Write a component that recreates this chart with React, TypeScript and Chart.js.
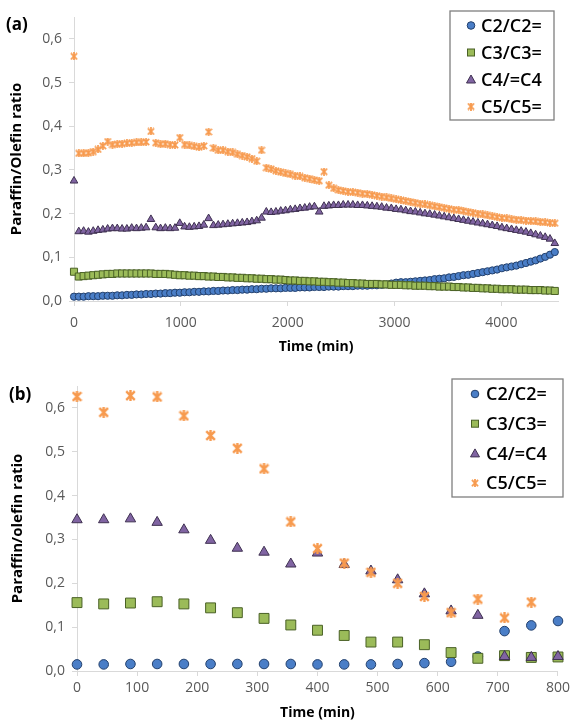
import React, { useEffect, useRef } from 'react';
import { Chart, registerables } from 'chart.js';
Chart.register(...registerables);

const SERIES = ['C2/C2=', 'C3/C3=', 'C4/=C4', 'C5/C5='];

// ---------- panel (a) ----------
const timeA = [0,45,90,135,180,225,270,315,360,405,450,495,540,585,630,675,720,765,810,855,900,945,990,1035,1080,1125,1170,1215,1260,1305,1350,1395,1440,1485,1530,1575,1620,1665,1710,1755,1800,1845,1890,1935,1980,2025,2070,2115,2160,2205,2250,2295,2340,2385,2430,2475,2520,2565,2610,2655,2700,2745,2790,2835,2880,2925,2970,3015,3060,3105,3150,3195,3240,3285,3330,3375,3420,3465,3510,3555,3600,3645,3690,3735,3780,3825,3870,3915,3960,4005,4050,4095,4140,4185,4230,4275,4320,4365,4410,4455,4500];
const c2A = [0.010,0.010,0.010,0.011,0.011,0.011,0.012,0.012,0.012,0.013,0.013,
  0.014,0.014,0.015,0.015,0.016,0.016,0.017,0.017,0.018,0.018,
  0.019,0.019,0.020,0.020,0.021,0.021,0.022,0.022,0.023,0.023,
  0.024,0.024,0.025,0.025,0.026,0.026,0.027,0.027,0.028,0.028,
  0.029,0.029,0.029,0.030,0.030,0.030,0.031,0.031,0.031,0.032,
  0.032,0.032,0.033,0.033,0.033,0.034,0.034,0.034,0.035,0.035,
  0.035,0.036,0.036,0.037,0.038,0.040,0.042,0.043,0.043,0.044,
  0.045,0.046,0.047,0.048,0.050,0.051,0.052,0.054,0.055,0.057,
  0.059,0.060,0.062,0.064,0.066,0.068,0.070,0.072,0.075,0.077,
  0.079,0.081,0.084,0.087,0.090,0.093,0.097,0.101,0.106,0.112];
const c3A = [0.067,0.056,0.057,0.058,0.059,0.060,0.061,0.062,0.062,0.063,0.063,
  0.063,0.063,0.063,0.063,0.063,0.063,0.062,0.062,0.062,0.061,
  0.060,0.059,0.059,0.058,0.058,0.057,0.057,0.056,0.056,0.055,
  0.055,0.054,0.054,0.053,0.053,0.052,0.052,0.051,0.051,0.050,
  0.050,0.049,0.049,0.048,0.047,0.047,0.046,0.046,0.045,0.045,
  0.044,0.044,0.043,0.043,0.042,0.042,0.041,0.041,0.040,0.040,
  0.039,0.039,0.039,0.038,0.038,0.037,0.037,0.037,0.036,0.036,
  0.035,0.035,0.035,0.034,0.034,0.033,0.033,0.033,0.032,0.032,
  0.031,0.031,0.030,0.030,0.029,0.029,0.028,0.028,0.027,0.027,
  0.027,0.026,0.026,0.026,0.025,0.025,0.025,0.024,0.024,0.023];
const c4A = [0.275,0.159,0.160,0.158,0.160,0.162,0.163,0.165,0.166,0.166,0.165,
  0.165,0.167,0.166,0.167,0.168,0.187,0.168,0.166,0.167,0.166,
  0.167,0.178,0.170,0.169,0.170,0.171,0.174,0.189,0.173,0.174,
  0.175,0.176,0.177,0.178,0.179,0.180,0.182,0.184,0.190,0.204,
  0.203,0.204,0.206,0.207,0.209,0.210,0.212,0.213,0.215,0.216,
  0.204,0.217,0.218,0.219,0.219,0.220,0.220,0.220,0.219,0.219,
  0.218,0.217,0.216,0.215,0.213,0.212,0.210,0.209,0.207,0.205,
  0.204,0.202,0.200,0.199,0.197,0.195,0.193,0.191,0.189,0.187,
  0.185,0.183,0.181,0.179,0.177,0.175,0.173,0.171,0.168,0.166,
  0.164,0.162,0.160,0.158,0.155,0.152,0.149,0.146,0.142,0.132];
const c5A = [0.560,0.338,0.338,0.339,0.342,0.347,0.355,0.365,0.358,0.359,0.360,
  0.361,0.362,0.363,0.363,0.364,0.388,0.362,0.359,0.360,0.358,
  0.357,0.374,0.358,0.356,0.354,0.352,0.355,0.387,0.350,0.345,
  0.345,0.342,0.340,0.336,0.333,0.330,0.326,0.320,0.345,0.305,
  0.302,0.298,0.295,0.292,0.290,0.287,0.285,0.282,0.280,0.277,
  0.275,0.296,0.265,0.258,0.254,0.252,0.250,0.249,0.248,0.246,
  0.245,0.243,0.241,0.239,0.237,0.235,0.233,0.231,0.229,0.227,
  0.225,0.223,0.221,0.219,0.217,0.215,0.213,0.211,0.209,0.208,
  0.206,0.204,0.202,0.200,0.198,0.196,0.194,0.192,0.190,0.189,
  0.187,0.186,0.185,0.184,0.183,0.182,0.181,0.180,0.179,0.178];

// ---------- panel (b) ----------
const timeB = [0,44.4,88.9,133.3,177.8,222.2,266.7,311.1,355.6,400,444.4,488.9,533.3,577.8,622.2,666.7,711.1,755.6,800];
const c2B = [0.015,0.015,0.016,0.016,0.016,0.016,0.016,0.016,0.016,0.015,0.015,0.015,0.016,0.018,0.021,0.033,0.091,0.104,0.114];
const c3B = [0.156,0.153,0.155,0.158,0.153,0.144,0.133,0.120,0.105,0.093,0.081,0.066,0.066,0.060,0.042,0.029,0.035,0.031,0.032];
const c4B = [0.345,0.345,0.347,0.339,0.322,0.298,0.280,0.271,0.244,0.269,0.243,0.228,0.208,0.176,0.137,0.127,0.033,0.031,0.033];
const c5B = [0.626,0.590,0.628,0.625,0.582,0.537,0.508,0.461,0.340,0.279,0.246,0.225,0.200,0.170,0.133,0.164,0.121,0.157,null];

const yTicks = [0, 0.1, 0.2, 0.3, 0.4, 0.5, 0.6];
const xTicksA = [0, 1000, 2000, 3000, 4000];
const xTicksB = [0, 100, 200, 300, 400, 500, 600, 700, 800];

const FILL = ['#4A7EC7', '#9BBB59', '#8064A2', '#F79A4E'];
const EDGE = ['#23406C', '#4A6126', '#3F3151', '#F79A4E'];
const AXIS = '#D9D9D9';
const FONT = '"Open Sans", "DejaVu Sans", sans-serif';

function makeStar(size: number, lw: number, color: string) {
  const c = document.createElement('canvas');
  c.width = size; c.height = size;
  const ctx = c.getContext('2d')!;
  ctx.strokeStyle = color; ctx.lineWidth = lw;
  const p = lw / 2;
  ctx.beginPath();
  ctx.moveTo(p, p); ctx.lineTo(size - p, size - p);
  ctx.moveTo(size - p, p); ctx.lineTo(p, size - p);
  ctx.moveTo(size / 2, 0); ctx.lineTo(size / 2, size);
  ctx.stroke();
  return c;
}

type PanelCfg = {
  label: string; labelPos: [number, number];
  yTitle: string; times: number[]; series: (number | null)[][];
  xMax: number; xTicks: number[];
  pad: { top: number; right: number };
  yWidth: number; xHeight: number; xTickPad: number; xTitlePad: number; yTitlePad: number;
  radii: [number, number, number]; starSize: number; starLW: number;
  legend: { x: number; y: number; w: number; h: number; row0: number; step: number; mx: number; tx: number };
};

function drawLegendMarker(ctx: CanvasRenderingContext2D, i: number, x: number, y: number, star: HTMLCanvasElement) {
  ctx.fillStyle = FILL[i]; ctx.strokeStyle = EDGE[i]; ctx.lineWidth = 1;
  if (i === 0) {
    ctx.beginPath(); ctx.arc(x, y, 3.8, 0, Math.PI * 2); ctx.fill(); ctx.stroke();
  } else if (i === 1) {
    ctx.fillRect(x - 3.5, y - 3.5, 7, 7); ctx.strokeRect(x - 3.5, y - 3.5, 7, 7);
  } else if (i === 2) {
    ctx.beginPath(); ctx.moveTo(x, y - 4.5); ctx.lineTo(x + 4.5, y + 3.5); ctx.lineTo(x - 4.5, y + 3.5); ctx.closePath(); ctx.fill(); ctx.stroke();
  } else {
    ctx.drawImage(star, x - star.width / 2, y - star.height / 2);
  }
}

function buildConfig(cfg: PanelCfg): any {
  const star = makeStar(cfg.starSize, cfg.starLW, FILL[3]);
  const legendStar = makeStar(8, 1.8, FILL[3]);
  const styles: any[] = ['circle', 'rect', 'triangle', star];
  const datasets = cfg.series.map((ys, i) => ({
    label: SERIES[i],
    data: cfg.times.map((t, j) => ({ x: t, y: ys[j] })).filter((p) => p.y !== null),
    showLine: false,
    pointStyle: styles[i],
    pointRadius: i === 3 ? cfg.starSize / 2 : cfg.radii[i],
    pointBackgroundColor: FILL[i],
    pointBorderColor: EDGE[i],
    pointBorderWidth: 1,
    order: 4 - i,
    clip: false,
  }));
  const plugin = {
    id: 'panelDecor',
    afterDraw(chart: any) {
      const ctx: CanvasRenderingContext2D = chart.ctx;
      ctx.save();
      ctx.font = `bold 17px ${FONT}`;
      ctx.fillStyle = '#000';
      ctx.textBaseline = 'middle';
      ctx.textAlign = 'left';
      ctx.fillText(cfg.label, cfg.labelPos[0], cfg.labelPos[1]);
      const L = cfg.legend;
      ctx.fillStyle = '#fff';
      ctx.fillRect(L.x, L.y, L.w, L.h);
      ctx.strokeStyle = '#7F7F7F';
      ctx.lineWidth = 1.3;
      ctx.strokeRect(L.x, L.y, L.w, L.h);
      SERIES.forEach((name, i) => {
        const y = L.row0 + i * L.step;
        drawLegendMarker(ctx, i, L.mx, y, legendStar);
        ctx.fillStyle = '#000';
        ctx.font = `600 18px ${FONT}`;
        ctx.textBaseline = 'middle';
        ctx.fillText(name, L.tx, y + 1);
      });
      ctx.restore();
    },
  };
  const tickFont = { family: FONT, size: 14 };
  return {
    type: 'scatter',
    data: { datasets },
    plugins: [plugin],
    options: {
      animation: false,
      responsive: false,
      devicePixelRatio: 1,
      layout: { padding: { top: cfg.pad.top, right: cfg.pad.right, left: 0, bottom: 0 } },
      plugins: { legend: { display: false }, tooltip: { enabled: false } },
      scales: {
        x: {
          type: 'linear', min: 0, max: cfg.xMax,
          afterBuildTicks: (s: any) => { s.ticks = cfg.xTicks.map((v) => ({ value: v })); },
          afterFit: (s: any) => { s.height = cfg.xHeight; },
          ticks: { font: tickFont, color: '#595959', padding: cfg.xTickPad, maxRotation: 0, callback: (v: number) => String(v) },
          grid: { display: true, drawOnChartArea: false, drawTicks: true, tickLength: 5, color: AXIS },
          border: { display: true, color: AXIS, width: 1 },
          title: { display: true, text: 'Time (min)', color: '#000', font: { family: FONT, size: 14, weight: 'bold' }, padding: { top: 0, bottom: cfg.xTitlePad } },
        },
        y: {
          type: 'linear', min: 0, max: 0.65,
          afterBuildTicks: (s: any) => { s.ticks = yTicks.map((v) => ({ value: v })); },
          afterFit: (s: any) => { s.width = cfg.yWidth; },
          ticks: { font: tickFont, color: '#595959', padding: 7, callback: (v: number) => v.toFixed(1).replace('.', ',') },
          grid: { display: true, drawOnChartArea: false, drawTicks: true, tickLength: 5, color: AXIS },
          border: { display: true, color: AXIS, width: 1 },
          title: { display: true, text: cfg.yTitle, color: '#000', font: { family: FONT, size: 15, weight: 'bold' }, padding: { top: cfg.yTitlePad, bottom: 0 } },
        },
      },
    },
  };
}

const cfgA: PanelCfg = {
  label: '(a)', labelPos: [6, 25],
  yTitle: 'Paraffin/Olefin ratio', times: timeA, series: [c2A, c3A, c4A, c5A],
  xMax: 4530, xTicks: xTicksA,
  pad: { top: 17, right: 16 }, yWidth: 74, xHeight: 60, xTickPad: 9, xTitlePad: 5.6, yTitlePad: 8,
  radii: [3.6, 5, 4.4], starSize: 8, starLW: 1.7,
  legend: { x: 450, y: 11, w: 104, h: 109, row0: 25.5, step: 27, mx: 471, tx: 481 },
};
const cfgB: PanelCfg = {
  label: '(b)', labelPos: [9, 34],
  yTitle: 'Paraffin/olefin ratio', times: timeB, series: [c2B, c3B, c4B, c5B],
  xMax: 800, xTicks: xTicksB,
  pad: { top: 25, right: 14 }, yWidth: 77, xHeight: 51, xTickPad: 4, xTitlePad: 0.9, yTitlePad: 9,
  radii: [4.8, 7, 6], starSize: 11, starLW: 2.4,
  legend: { x: 452, y: 18, w: 111, h: 118, row0: 33, step: 29.7, mx: 475, tx: 486 },
};

function Panel({ cfg }: { cfg: PanelCfg }) {
  const ref = useRef<HTMLCanvasElement>(null);
  useEffect(() => {
    const chart = new Chart(ref.current!, buildConfig(cfg));
    return () => chart.destroy();
  }, [cfg]);
  return <canvas ref={ref} width={574} height={361} style={{ display: 'block', width: 574, height: 361 }} />;
}

export default function App() {
  return (
    <div style={{ position: 'absolute', left: 0, top: 0, width: 574, height: 722, background: '#fff' }}>
      <Panel cfg={cfgA} />
      <Panel cfg={cfgB} />
    </div>
  );
}
